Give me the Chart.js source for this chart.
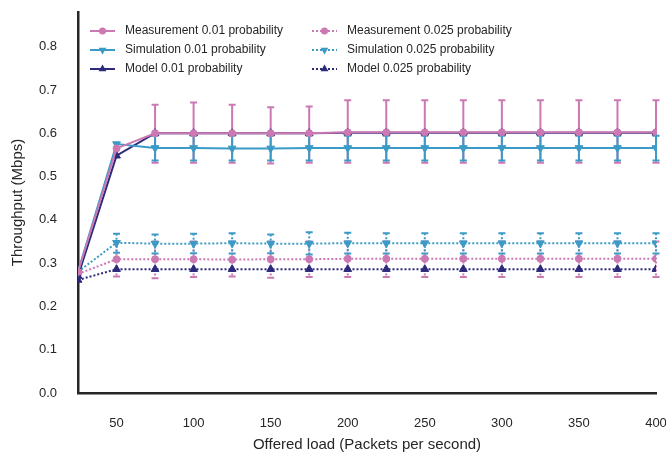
<!DOCTYPE html>
<html>
<head>
<meta charset="utf-8">
<script src="https://cdn.jsdelivr.net/npm/chart.js@4.4.1/dist/chart.umd.min.js"></script>
<style>
html, body { margin: 0; padding: 0; background: #ffffff; }
</style>
</head>
<body>
<canvas id="grafico" width="666" height="456"></canvas>
<script>
// Carga oferecida (pacotes por segundo)
const carga = [25, 50, 75, 100, 125, 150, 175, 200, 225, 250, 275, 300, 325, 350, 375, 400];
const ticksX = [50, 100, 150, 200, 250, 300, 350, 400];
const ticksY = [0, 0.1, 0.2, 0.3, 0.4, 0.5, 0.6, 0.7, 0.8];

// Vazao (Mbps) - probabilidade 0.01
const medicao01 = [0.28, 0.565, 0.600, 0.600, 0.600, 0.600, 0.600, 0.602, 0.602, 0.602, 0.602, 0.602, 0.602, 0.602, 0.602, 0.602];
const medicao01Max = [null, null, 0.666, 0.671, 0.666, 0.660, 0.662, 0.676, 0.676, 0.676, 0.676, 0.676, 0.676, 0.676, 0.676, 0.676];
const medicao01Min = [null, null, 0.532, 0.532, 0.532, 0.530, 0.532, 0.532, 0.532, 0.532, 0.532, 0.532, 0.532, 0.532, 0.532, 0.532];
const simulacao01 = [0.28, 0.575, 0.566, 0.566, 0.565, 0.565, 0.566, 0.566, 0.566, 0.566, 0.566, 0.566, 0.566, 0.566, 0.566, 0.566];
const simulacao01Max = [null, null, 0.594, 0.594, 0.594, 0.594, 0.594, 0.594, 0.594, 0.594, 0.594, 0.594, 0.594, 0.594, 0.594, 0.594];
const simulacao01Min = [null, null, 0.537, 0.537, 0.537, 0.537, 0.537, 0.537, 0.537, 0.537, 0.537, 0.537, 0.537, 0.537, 0.537, 0.537];
const modelo01 = [0.27, 0.548, 0.600, 0.600, 0.600, 0.600, 0.600, 0.601, 0.601, 0.601, 0.601, 0.601, 0.601, 0.601, 0.601, 0.601];

// Vazao (Mbps) - probabilidade 0.025
const medicao025 = [0.275, 0.309, 0.309, 0.309, 0.308, 0.309, 0.309, 0.310, 0.310, 0.310, 0.310, 0.310, 0.310, 0.310, 0.310, 0.310];
const medicao025Max = [null, 0.350, 0.350, 0.350, 0.350, 0.350, 0.350, 0.350, 0.350, 0.350, 0.350, 0.350, 0.350, 0.350, 0.350, 0.350];
const medicao025Min = [null, 0.269, 0.265, 0.268, 0.269, 0.266, 0.268, 0.268, 0.268, 0.268, 0.268, 0.268, 0.268, 0.268, 0.268, 0.268];
const simulacao025 = [0.28, 0.347, 0.345, 0.345, 0.346, 0.345, 0.345, 0.346, 0.346, 0.346, 0.346, 0.346, 0.346, 0.346, 0.346, 0.346];
const simulacao025Max = [null, 0.368, 0.366, 0.368, 0.369, 0.366, 0.371, 0.370, 0.369, 0.369, 0.369, 0.369, 0.369, 0.369, 0.369, 0.369];
const simulacao025Min = [null, 0.324, 0.322, 0.323, 0.322, 0.323, 0.320, 0.322, 0.322, 0.322, 0.322, 0.322, 0.322, 0.322, 0.322, 0.322];
const modelo025 = [0.261, 0.286, 0.286, 0.286, 0.286, 0.286, 0.286, 0.286, 0.286, 0.286, 0.286, 0.286, 0.286, 0.286, 0.286, 0.286];

const rosa = '#cc78b2';
const azul = '#3b9bc6';
const marinho = '#2c2a7b';
const corTexto = '#262626';
const fonte = '"Liberation Sans", Arial, sans-serif';

function pontos(valores) {
    return valores.map((v, i) => ({ x: carga[i], y: v }));
}

function serie(nome, valores, cor, estilo, rotacao, pontilhado, raio, erroMax, erroMin) {
    return {
        label: nome,
        data: pontos(valores),
        borderColor: cor,
        backgroundColor: cor,
        borderWidth: 2,
        borderDash: pontilhado ? [2, 2] : [],
        pointStyle: estilo,
        pointRotation: rotacao,
        pointRadius: raio,
        pointBorderWidth: 1,
        tension: 0,
        erroMax: erroMax,
        erroMin: erroMin
    };
}

// Barras de erro desenhadas pelas escalas do grafico
const barrasErro = {
    id: 'barrasErro',
    beforeDatasetsDraw(chart) {
        const ctx = chart.ctx;
        const sx = chart.scales.x;
        const sy = chart.scales.y;
        chart.data.datasets.forEach(ds => {
            if (!ds.erroMax) return;
            ctx.save();
            ctx.strokeStyle = ds.borderColor;
            ctx.lineWidth = 2;
            ds.erroMax.forEach((alto, i) => {
                const baixo = ds.erroMin[i];
                if (alto == null) return;
                const px = sx.getPixelForValue(carga[i]);
                const y1 = sy.getPixelForValue(alto);
                const y2 = sy.getPixelForValue(baixo);
                ctx.setLineDash(ds.borderDash);
                ctx.beginPath();
                ctx.moveTo(px, y1);
                ctx.lineTo(px, y2);
                ctx.stroke();
                ctx.setLineDash([]);
                ctx.beginPath();
                ctx.moveTo(px - 3.5, y1);
                ctx.lineTo(px + 3.5, y1);
                ctx.moveTo(px - 3.5, y2);
                ctx.lineTo(px + 3.5, y2);
                ctx.stroke();
            });
            ctx.restore();
        });
    }
};

function desenharMarcador(ctx, estilo, x, y, r, rotacao) {
    ctx.beginPath();
    if (estilo === 'circle') {
        ctx.arc(x, y, r, 0, Math.PI * 2);
    } else {
        const s = rotacao === 180 ? -1 : 1;
        ctx.moveTo(x, y - s * r);
        ctx.lineTo(x + r * 0.866, y + s * r * 0.5);
        ctx.lineTo(x - r * 0.866, y + s * r * 0.5);
        ctx.closePath();
    }
    ctx.fill();
}

// Legenda em duas colunas dentro da area do grafico
const legenda = {
    id: 'legenda',
    afterDraw(chart) {
        const ctx = chart.ctx;
        const colunas = [90, 312];
        chart.data.datasets.forEach((ds, i) => {
            const x0 = colunas[i < 3 ? 0 : 1];
            const y = 31 + (i % 3) * 19;
            ctx.save();
            ctx.strokeStyle = ds.borderColor;
            ctx.fillStyle = ds.backgroundColor;
            ctx.lineWidth = 2;
            ctx.setLineDash(ds.borderDash);
            ctx.beginPath();
            ctx.moveTo(x0, y);
            ctx.lineTo(x0 + 25, y);
            ctx.stroke();
            ctx.setLineDash([]);
            desenharMarcador(ctx, ds.pointStyle, x0 + 12.5, y, ds.pointRadius, ds.pointRotation);
            ctx.fillStyle = corTexto;
            ctx.font = '12px ' + fonte;
            ctx.textBaseline = 'middle';
            ctx.textAlign = 'left';
            ctx.fillText(ds.label, x0 + 35, y);
            ctx.restore();
        });
    }
};

const ctx = document.getElementById('grafico').getContext('2d');
const grafico = new Chart(ctx, {
    type: 'line',
    data: {
        datasets: [
            serie('Measurement 0.01 probability', medicao01, rosa, 'circle', 0, false, 3.5, medicao01Max, medicao01Min),
            serie('Simulation 0.01 probability', simulacao01, azul, 'triangle', 180, false, 4.5, simulacao01Max, simulacao01Min),
            serie('Model 0.01 probability', modelo01, marinho, 'triangle', 0, false, 4.5, null, null),
            serie('Measurement 0.025 probability', medicao025, rosa, 'circle', 0, true, 3.5, medicao025Max, medicao025Min),
            serie('Simulation 0.025 probability', simulacao025, azul, 'triangle', 180, true, 4.5, simulacao025Max, simulacao025Min),
            serie('Model 0.025 probability', modelo025, marinho, 'triangle', 0, true, 4.5, null, null)
        ]
    },
    options: {
        responsive: false,
        animation: false,
        devicePixelRatio: 1,
        layout: { padding: { top: 12, right: 10, left: 0, bottom: 0 } },
        plugins: {
            legend: { display: false },
            tooltip: { enabled: false }
        },
        scales: {
            x: {
                type: 'linear',
                min: 25,
                max: 400,
                grid: { display: false },
                border: { display: true, color: corTexto, width: 2.5 },
                afterBuildTicks: axis => { axis.ticks = ticksX.map(v => ({ value: v })); },
                afterFit: axis => {
                    axis.height = 63;
                    axis.paddingLeft = 0;
                    axis.paddingRight = 0;
                },
                ticks: {
                    padding: 15,
                    color: corTexto,
                    font: { family: fonte, size: 13 },
                    maxRotation: 0
                },
                title: {
                    display: true,
                    text: 'Offered load (Packets per second)',
                    color: corTexto,
                    font: { family: fonte, size: 15 },
                    padding: { top: 0, bottom: 2 }
                }
            },
            y: {
                min: 0,
                max: 0.88,
                grid: { display: false },
                border: { display: true, color: corTexto, width: 2.5 },
                afterBuildTicks: axis => { axis.ticks = ticksY.map(v => ({ value: v })); },
                afterFit: axis => {
                    axis.width = 78;
                    axis.paddingTop = 0;
                    axis.paddingBottom = 0;
                },
                ticks: {
                    padding: 13,
                    color: corTexto,
                    font: { family: fonte, size: 13 },
                    callback: v => v.toFixed(1)
                },
                title: {
                    display: true,
                    text: 'Throughput (Mbps)',
                    color: corTexto,
                    font: { family: fonte, size: 15 },
                    padding: { top: 9, bottom: 0 }
                }
            }
        }
    },
    plugins: [barrasErro, legenda]
});
</script>
</body>
</html>
